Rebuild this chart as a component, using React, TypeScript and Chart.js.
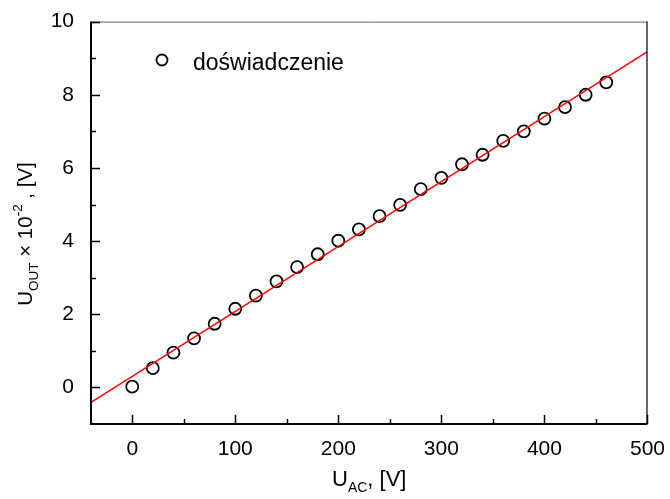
import React, { useEffect, useRef } from "react";
import { Chart, registerables } from "chart.js";

Chart.register(...registerables);

const uAC = [0, 20, 40, 60, 80, 100, 120, 140, 160, 180, 200, 220, 240, 260, 280, 300, 320, 340, 360, 380, 400, 420, 440, 460];
const uOUT = [0.02, 0.53, 0.95, 1.34, 1.74, 2.15, 2.51, 2.9, 3.29, 3.64, 4.01, 4.32, 4.68, 4.99, 5.42, 5.73, 6.1, 6.36, 6.74, 7.0, 7.35, 7.66, 8.0, 8.34];
const fitX = [-40, 500];
const fitY = [-0.41, 9.18];
const xMajor = [0, 100, 200, 300, 400, 500];
const xMinor = [50, 150, 250, 350, 450];
const yMajor = [0, 2, 4, 6, 8, 10];
const yMinor = [1, 3, 5, 7, 9];
const legendLabel = "doświadczenie";

const FONT = '"Liberation Sans", Arial, sans-serif';

function drawSegments(ctx: CanvasRenderingContext2D, segs: { t: string; s: number; dy: number }[], cx: number, cy: number) {
  let total = 0;
  for (const g of segs) {
    ctx.font = `${g.s}px ${FONT}`;
    total += ctx.measureText(g.t).width;
  }
  let x = cx - total / 2;
  ctx.textAlign = "left";
  ctx.textBaseline = "alphabetic";
  for (const g of segs) {
    ctx.font = `${g.s}px ${FONT}`;
    ctx.fillText(g.t, x, cy + g.dy);
    x += ctx.measureText(g.t).width;
  }
}

const decorPlugin = {
  id: "decor",
  afterDraw(chart: any) {
    const ctx: CanvasRenderingContext2D = chart.ctx;
    const { left, right, top, bottom } = chart.chartArea;
    const xs = chart.scales.x;
    const ys = chart.scales.y;
    ctx.save();
    // frame top
    ctx.strokeStyle = "#666";
    ctx.lineWidth = 1;
    ctx.beginPath();
    ctx.moveTo(left, top + 0.5);
    ctx.lineTo(right, top + 0.5);
    ctx.stroke();
    // frame right
    ctx.strokeStyle = "#111";
    ctx.lineWidth = 1.3;
    ctx.beginPath();
    ctx.moveTo(right - 0.5, top);
    ctx.lineTo(right - 0.5, bottom);
    ctx.stroke();
    // left / bottom axes
    ctx.strokeStyle = "#000";
    ctx.lineWidth = 2;
    ctx.beginPath();
    ctx.moveTo(left, top);
    ctx.lineTo(left, bottom);
    ctx.lineTo(right, bottom);
    ctx.stroke();
    // ticks
    ctx.lineWidth = 1.5;
    ctx.beginPath();
    for (const v of xMajor) {
      const px = Math.round(xs.getPixelForValue(v)) + 0.5;
      ctx.moveTo(px, bottom);
      ctx.lineTo(px, bottom - 9);
    }
    for (const v of xMinor) {
      const px = Math.round(xs.getPixelForValue(v)) + 0.5;
      ctx.moveTo(px, bottom);
      ctx.lineTo(px, bottom - 5);
    }
    for (const v of yMajor) {
      const py = Math.round(ys.getPixelForValue(v)) + 0.5;
      ctx.moveTo(left, py);
      ctx.lineTo(left + 9, py);
    }
    for (const v of yMinor) {
      const py = Math.round(ys.getPixelForValue(v)) + 0.5;
      ctx.moveTo(left, py);
      ctx.lineTo(left + 5, py);
    }
    ctx.stroke();
    // legend
    ctx.lineWidth = 1.8;
    ctx.beginPath();
    ctx.arc(162, 60, 5.5, 0, Math.PI * 2);
    ctx.stroke();
    ctx.fillStyle = "#000";
    ctx.font = `23px ${FONT}`;
    ctx.textAlign = "left";
    ctx.textBaseline = "alphabetic";
    ctx.fillText(legendLabel, 193, 70);
    // x title
    drawSegments(ctx, [
      { t: "U", s: 22, dy: 0 },
      { t: "AC", s: 14, dy: 6 },
      { t: ", [V]", s: 22, dy: 0 },
    ], (left + right) / 2, 486);
    // y title
    ctx.translate(32, 234);
    ctx.rotate(-Math.PI / 2);
    drawSegments(ctx, [
      { t: "U", s: 20.5, dy: 0 },
      { t: "OUT", s: 13.5, dy: 6 },
      { t: " × 10", s: 20.5, dy: 0 },
      { t: "-2", s: 13.5, dy: -10 },
      { t: " , [V]", s: 20.5, dy: 0 },
    ], 0, 0);
    ctx.restore();
  },
};

export default function App() {
  const ref = useRef<HTMLCanvasElement>(null);
  useEffect(() => {
    if (!ref.current) return;
    const chart = new Chart(ref.current, {
      type: "scatter",
      data: {
        datasets: [
          {
            label: "fit",
            data: fitX.map((x, i) => ({ x, y: fitY[i] })),
            showLine: true,
            borderColor: "#ff0000",
            borderWidth: 1.4,
            pointRadius: 0,
          },
          {
            label: legendLabel,
            data: uAC.map((x, i) => ({ x, y: uOUT[i] })),
            borderColor: "#000",
            backgroundColor: "rgba(0,0,0,0)",
            borderWidth: 1.8,
            pointRadius: 6,
          },
        ],
      },
      options: {
        animation: false,
        responsive: false,
        layout: { padding: { left: 0, right: 22, top: 18, bottom: 0 } },
        plugins: { legend: { display: false }, tooltip: { enabled: false } },
        scales: {
          x: {
            type: "linear",
            min: -40,
            max: 500,
            grid: { display: false },
            border: { display: false },
            afterBuildTicks: (s: any) => { s.ticks = xMajor.map((v) => ({ value: v })); },
            afterFit: (s: any) => { s.height = 75; },
            ticks: { color: "#000", font: { family: FONT, size: 21 }, padding: 5, maxRotation: 0, autoSkip: false },
          },
          y: {
            type: "linear",
            min: -1,
            max: 10,
            grid: { display: false },
            border: { display: false },
            afterBuildTicks: (s: any) => { s.ticks = yMajor.map((v) => ({ value: v })); },
            afterFit: (s: any) => { s.width = 91; },
            ticks: { color: "#000", font: { family: FONT, size: 21 }, padding: 9, autoSkip: false },
          },
        },
      },
      plugins: [decorPlugin],
    });
    return () => chart.destroy();
  }, []);
  return (
    <div style={{ position: "fixed", left: 0, top: 0, width: 670, height: 499, background: "#fff" }}>
      <canvas ref={ref} width={670} height={499} />
    </div>
  );
}
